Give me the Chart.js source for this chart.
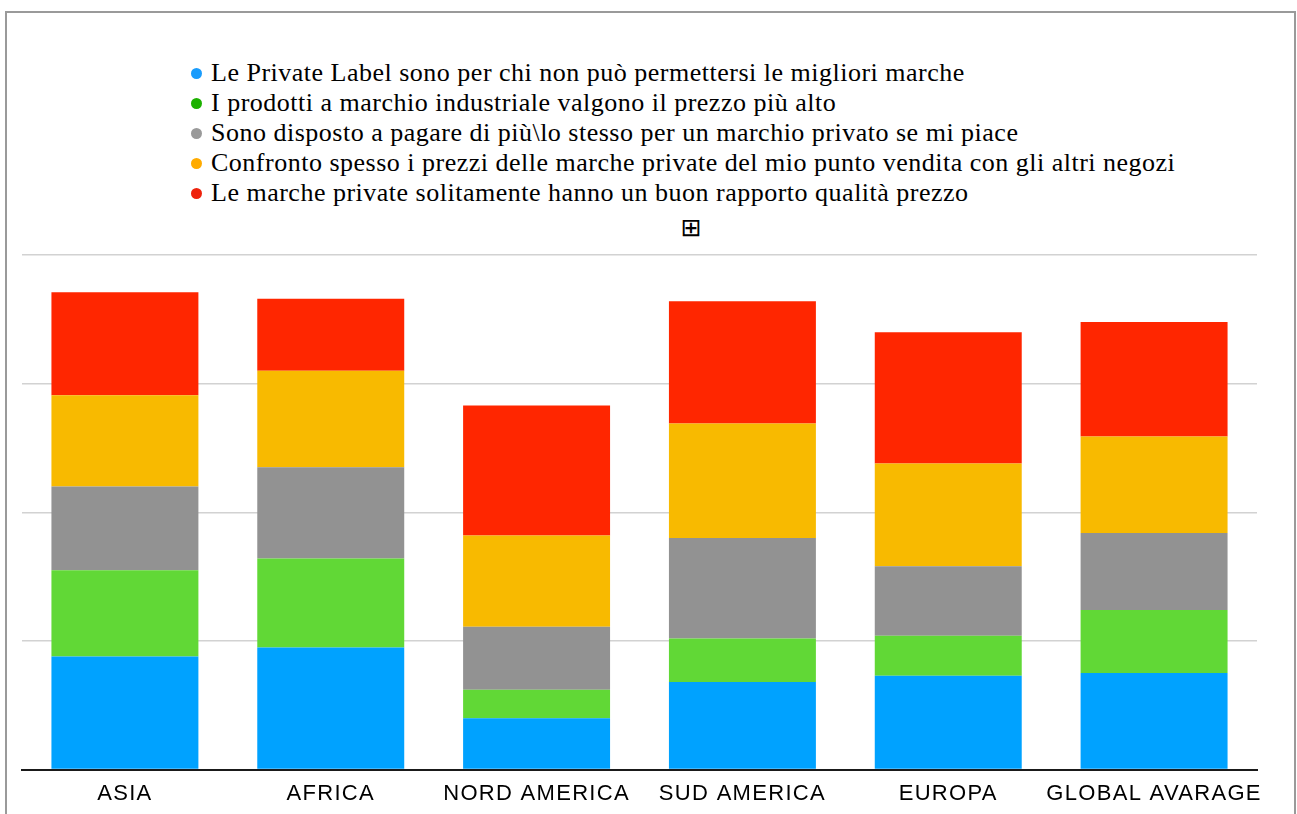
<!DOCTYPE html>
<html>
  <head>
    <meta charset="utf-8">
    <script src="https://cdn.jsdelivr.net/npm/chart.js@4.4.1/dist/chart.umd.min.js"></script>
    <style>
      body { margin: 0; background: #fff; width: 1297px; height: 814px; overflow: hidden; position: relative; }
      #frame { position: absolute; left: 5px; top: 11px; width: 1287px; height: 830px; border: 2px solid #9a9a9a; }
      #legend { position: absolute; left: 190px; top: 58px; font-family: "Liberation Serif", "Times New Roman", serif; font-size: 26px; letter-spacing: 0.5px; line-height: 30px; color: #000; }
      #legend div { position: relative; padding-left: 21px; white-space: nowrap; }
      #legend span { position: absolute; left: 1px; top: 10px; width: 11px; height: 11px; border-radius: 50%; }
      #expand { position: absolute; left: 671px; top: 213px; width: 40px; text-align: center; font-family: "DejaVu Sans", sans-serif; font-size: 25px; line-height: 30px; color: #000; }
      #wrap { position: absolute; left: 0; top: 240px; width: 1297px; height: 586px; }
    </style>
  </head>
  <body>
    <div id="frame"></div>
    <div id="legend"></div>
    <div id="expand">⊞</div>
    <div id="wrap"><canvas id="myChart"></canvas></div>
    <script>
      var regions = ["ASIA", "AFRICA", "NORD AMERICA", "SUD AMERICA", "EUROPA", "GLOBAL AVARAGE"];
      var statements = [
        "Le Private Label sono per chi non può permettersi le migliori marche",
        "I prodotti a marchio industriale valgono il prezzo più alto",
        "Sono disposto a pagare di più\\lo stesso per un marchio privato se mi piace",
        "Confronto spesso i prezzi delle marche private del mio punto vendita con gli altri negozi",
        "Le marche private solitamente hanno un buon rapporto qualità prezzo"
      ];
      var privateLabel = [88, 95, 40, 68, 73, 75];
      var industrialBrand = [67, 69, 22, 34, 31, 49];
      var payMore = [65, 71, 49, 78, 54, 60];
      var comparePrices = [71, 75, 71, 89, 80, 75];
      var goodValue = [80, 56, 101, 95, 102, 89];
      var yTicks = [0, 100, 200, 300, 400];

      var barColors = ["#00a2ff", "#61d836", "#929292", "#f8ba00", "#ff2600"];
      var dotColors = ["#1a9cfc", "#1db100", "#9a9a9a", "#ffab00", "#ee220c"];
      var series = [privateLabel, industrialBrand, payMore, comparePrices, goodValue];

      // legend list above the plot
      var legend = document.getElementById("legend");
      statements.forEach(function (text, i) {
        var row = document.createElement("div");
        var dot = document.createElement("span");
        dot.style.background = dotColors[i];
        row.appendChild(dot);
        row.appendChild(document.createTextNode(text));
        legend.appendChild(row);
      });

      var datasets = series.map(function (values, i) {
        return {
          label: statements[i],
          data: values,
          backgroundColor: barColors[i],
          borderWidth: 0,
          categoryPercentage: 1,
          barPercentage: 0.714
        };
      });

      // slightly wider tracking for the region names
      var spacing = {
        id: "spacing",
        beforeDraw: function (chart) { chart.ctx.letterSpacing = "1.3px"; }
      };

      var ctx = document.getElementById("myChart").getContext("2d");
      var myChart = new Chart(ctx, {
        type: "bar",
        data: { labels: regions, datasets: datasets },
        plugins: [spacing],
        options: {
          responsive: true,
          maintainAspectRatio: false,
          animation: false,
          layout: { padding: { left: 22, right: 40, top: 15, bottom: 8 } },
          plugins: { legend: { display: false }, tooltip: { enabled: false } },
          scales: {
            x: {
              stacked: true,
              grid: { display: false, drawTicks: false },
              border: { display: true, color: "#1a1a1a", width: 2 },
              ticks: {
                color: "#000",
                padding: 11,
                font: { family: "'Liberation Sans', Arial, sans-serif", size: 22 }
              }
            },
            y: {
              stacked: true,
              min: yTicks[0],
              max: yTicks[yTicks.length - 1],
              afterBuildTicks: function (axis) {
                axis.ticks = yTicks.map(function (v) { return { value: v }; });
              },
              border: { display: false },
              grid: { color: "#d2d2d2", lineWidth: 1.5, drawTicks: false },
              ticks: { display: false }
            }
          }
        }
      });
    </script>
  </body>
</html>
